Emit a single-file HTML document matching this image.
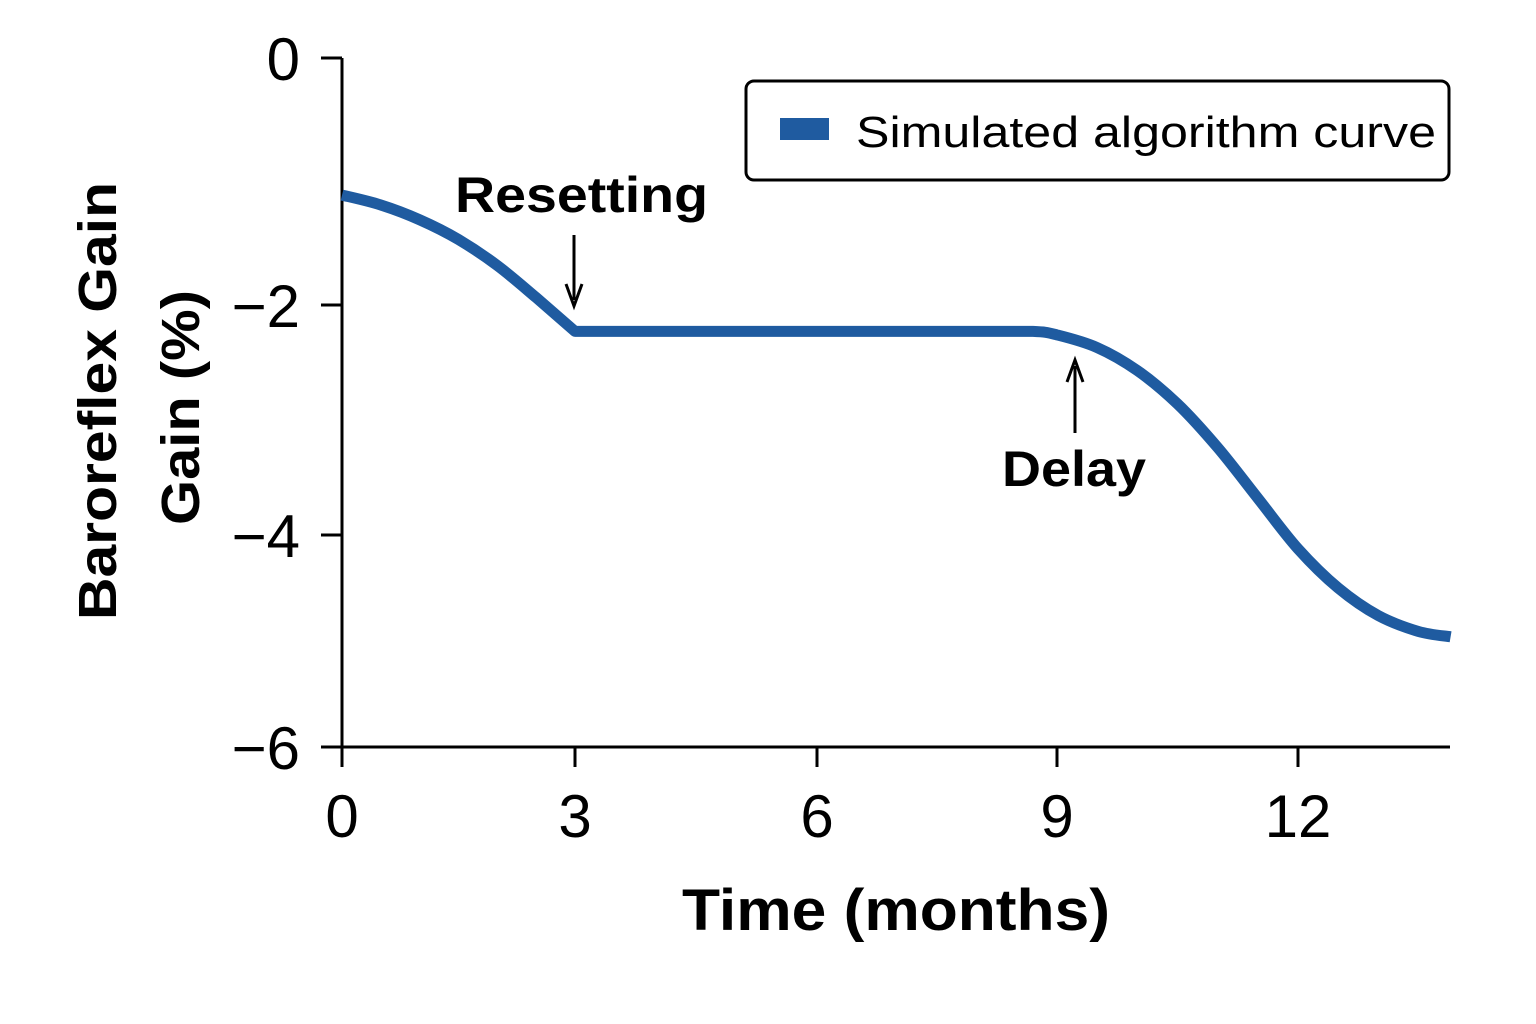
<!DOCTYPE html>
<html><head><meta charset="utf-8"><style>
html,body{margin:0;padding:0;background:#fff;}
svg{display:block;font-family:"Liberation Sans","DejaVu Sans",sans-serif;}
</style></head><body>
<svg id="chart" width="1536" height="1024" viewBox="0 0 1536 1024">
<g id="axes"></g>
<path id="curve" fill="none" stroke="#1f5ba0" stroke-width="11" stroke-linejoin="round" stroke-linecap="butt"/>
<g>
<text x="455" y="212" font-size="50" font-weight="bold" textLength="253" lengthAdjust="spacingAndGlyphs" fill="#000">Resetting</text>
<line x1="574" y1="235" x2="574" y2="300" stroke="#000" stroke-width="3"/>
<path d="M566,284 L574,306 L582,284" fill="none" stroke="#000" stroke-width="3"/>
</g>
<g>
<line x1="1075" y1="433" x2="1075" y2="366" stroke="#000" stroke-width="3"/>
<path d="M1067,382 L1075,360 L1083,382" fill="none" stroke="#000" stroke-width="3"/>
<text x="1002" y="486" font-size="50" font-weight="bold" textLength="144" lengthAdjust="spacingAndGlyphs" fill="#000">Delay</text>
</g>
<g>
<rect x="746" y="81" width="703" height="99" rx="8" fill="#fff" stroke="#000" stroke-width="3"/>
<rect x="780" y="118" width="49" height="22" fill="#1f5ba0"/>
<text x="856" y="147" font-size="44" textLength="580" lengthAdjust="spacingAndGlyphs" fill="#000">Simulated algorithm curve</text>
</g>
<g>
<text transform="translate(116,620) rotate(-90)" font-size="54" font-weight="bold" textLength="438" lengthAdjust="spacingAndGlyphs" fill="#000">Baroreflex Gain</text>
<text transform="translate(199,525) rotate(-90)" font-size="54" font-weight="bold" textLength="235" lengthAdjust="spacingAndGlyphs" fill="#000">Gain (%)</text>
</g>
<text x="682" y="930" font-size="58" font-weight="bold" textLength="428" lengthAdjust="spacingAndGlyphs" fill="#000">Time (months)</text>
</svg>
<script>
const xTicks = [0, 3, 6, 9, 12];
const yTicks = [0, -2, -4, -6];
const tValues = [0, 0.5, 1, 1.5, 2, 2.5, 3, 4, 5, 6, 7, 8, 8.7, 9, 9.5, 10, 10.5, 11, 11.5, 12, 12.5, 13, 13.5, 13.9];
const gainValues = [-1.11, -1.19, -1.31, -1.47, -1.68, -1.94, -2.23, -2.23, -2.23, -2.23, -2.23, -2.23, -2.23, -2.26, -2.37, -2.57, -2.86, -3.24, -3.68, -4.13, -4.5, -4.76, -4.91, -4.96];

const NS = 'http://www.w3.org/2000/svg';
const xPix = [342, 575, 817, 1057, 1298];
function xScale(t){
  const i = Math.min(3, Math.max(0, Math.floor(t / 3)));
  const f = (t - i * 3) / 3;
  return xPix[i] + f * (xPix[i + 1] - xPix[i]);
}
const yPix = [58, 305, 535, 747];
function yScale(v){
  const i = Math.min(2, Math.max(0, Math.floor(-v / 2)));
  const f = (-v - i * 2) / 2;
  return yPix[i] + f * (yPix[i + 1] - yPix[i]);
}
const axes = document.getElementById('axes');
function mk(tag, attrs){ const e = document.createElementNS(NS, tag); for (const k in attrs) e.setAttribute(k, attrs[k]); axes.appendChild(e); return e; }

const ya = mk('line', {x1: 342, y1: 58, x2: 342, y2: 749, stroke: '#000', 'stroke-width': 3});


const xa = mk('line', {x1: 340, y1: 747, x2: 1450, y2: 747, stroke: '#000', 'stroke-width': 3});



yTicks.forEach(v => {
  const y = yScale(v);
  const tk = mk('line', {x1: 321, y1: y, x2: 342, y2: y, stroke: '#000', 'stroke-width': 3});
  
  
  const lb = mk('text', {x: 300, y: y + 22, 'font-size': 60, 'text-anchor': 'end', fill: '#000'});
  lb.textContent = v === 0 ? '0' : '\u2212' + Math.abs(v);
  
  
});
xTicks.forEach(t => {
  const x = xScale(t);
  const tk = mk('line', {x1: x, y1: 747, x2: x, y2: 767, stroke: '#000', 'stroke-width': 3});
  
  
  const lb = mk('text', {x: x, y: 837, 'font-size': 60, 'text-anchor': 'middle', fill: '#000'});
  lb.textContent = String(t);
  
  
});

const pts = tValues.map((t, i) => [xScale(t), yScale(gainValues[i])]);
let d = 'M' + pts[0][0].toFixed(1) + ',' + pts[0][1].toFixed(1);
for (let i = 0; i < pts.length - 1; i++) {
  const p0 = pts[Math.max(0, i - 1)], p1 = pts[i], p2 = pts[i + 1], p3 = pts[Math.min(pts.length - 1, i + 2)];
  const flat = (p1[1] === p2[1]);
  const kink = (i === 6 || i === 5);
  const s = (flat || kink) ? 0 : 1 / 6;
  const c1 = [p1[0] + (p2[0] - p0[0]) * s, p1[1] + (p2[1] - p0[1]) * s];
  const c2 = [p2[0] - (p3[0] - p1[0]) * s, p2[1] - (p3[1] - p1[1]) * s];
  d += 'C' + c1[0].toFixed(1) + ',' + c1[1].toFixed(1) + ' ' + c2[0].toFixed(1) + ',' + c2[1].toFixed(1) + ' ' + p2[0].toFixed(1) + ',' + p2[1].toFixed(1);
}
document.getElementById('curve').setAttribute('d', d);
</script>
</body></html>
